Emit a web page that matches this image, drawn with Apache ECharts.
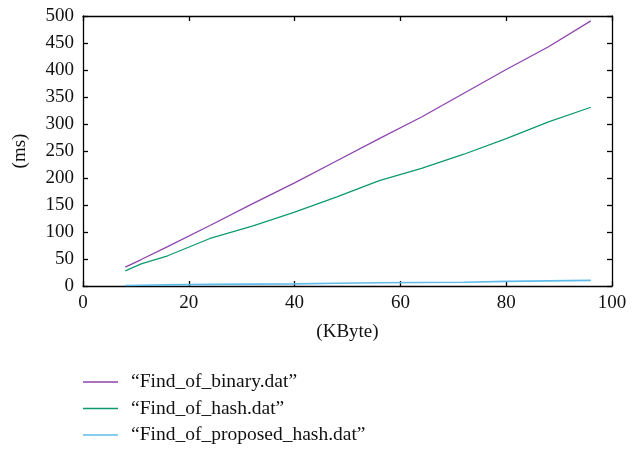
<!DOCTYPE html>
<html><head><meta charset="utf-8">
<script src="https://cdn.jsdelivr.net/npm/echarts@6/dist/echarts.min.js"></script>
<style>html,body{margin:0;padding:0;background:#fff}#c{width:644px;height:451px}</style>
</head><body><div id="c"></div>
<script>
const xKB = [8, 11, 16, 24, 32, 40, 48, 56, 64, 72, 80, 88, 96];
const binaryMs = [35, 49, 73, 112, 152, 191, 232, 273, 313, 357, 401, 443, 491];
const hashMs = [28, 41, 56, 88, 111, 137, 165, 195, 218, 244, 273, 304, 331];
const proposedMs = [1, 1.5, 2, 3, 3.5, 4, 5, 6, 6.5, 7, 8.5, 9.5, 10.5];
const seriesNames = ['\u201cFind_of_binary.dat\u201d', '\u201cFind_of_hash.dat\u201d', '\u201cFind_of_proposed_hash.dat\u201d'];
const colors = ['#8e44ad', '#0e9a70', '#5fbbea'];

const pair = (ys) => xKB.map((x, i) => [x, ys[i]]);
const font = 'Liberation Serif';
const chart = echarts.init(document.getElementById('c'));
const baseAxis = {
  axisLine: { show: true, onZero: false, lineStyle: { color: '#000', width: 1.3 } },
  axisTick: { show: true, inside: true, length: 5, lineStyle: { color: '#000', width: 1.3 } },
  splitLine: { show: false }
};
chart.setOption({
  animation: false,
  color: colors,
  textStyle: { fontFamily: font },
  grid: { left: 83, right: 32, top: 16, bottom: 165 },
  legend: {
    orient: 'vertical', left: 83, top: 372, padding: 0,
    icon: 'rect', itemWidth: 35, itemHeight: 1.5, itemGap: 6.5,
    textStyle: { fontFamily: font, fontSize: 19.5, color: '#111', lineHeight: 20, padding: [0, 0, 0, 8] },
    data: seriesNames
  },
  xAxis: [
    Object.assign({}, baseAxis, {
      type: 'value', min: 0, max: 100, interval: 20, position: 'bottom',
      name: '(KByte)', nameLocation: 'middle', nameGap: 37,
      nameTextStyle: { fontFamily: font, fontSize: 19, color: '#111' },
      axisLabel: { fontFamily: font, fontSize: 19, color: '#111', margin: 8 }
    }),
    Object.assign({}, baseAxis, {
      type: 'value', min: 0, max: 100, interval: 20, position: 'top',
      axisLabel: { show: false }
    })
  ],
  yAxis: [
    Object.assign({}, baseAxis, {
      type: 'value', min: 0, max: 500, interval: 50, position: 'left',
      name: '(ms)', nameLocation: 'middle', nameGap: 53, nameRotate: 90,
      nameTextStyle: { fontFamily: font, fontSize: 19, color: '#111' },
      axisLabel: { fontFamily: font, fontSize: 19, color: '#111', margin: 9 }
    }),
    Object.assign({}, baseAxis, {
      type: 'value', min: 0, max: 500, interval: 50, position: 'right',
      axisLabel: { show: false }
    })
  ],
  series: [
    { name: seriesNames[0], type: 'line', data: pair(binaryMs), symbol: 'none', lineStyle: { width: 1.3 } },
    { name: seriesNames[1], type: 'line', data: pair(hashMs), symbol: 'none', lineStyle: { width: 1.3 } },
    { name: seriesNames[2], type: 'line', data: pair(proposedMs), symbol: 'none', lineStyle: { width: 1.6 } }
  ]
});
</script></body></html>
